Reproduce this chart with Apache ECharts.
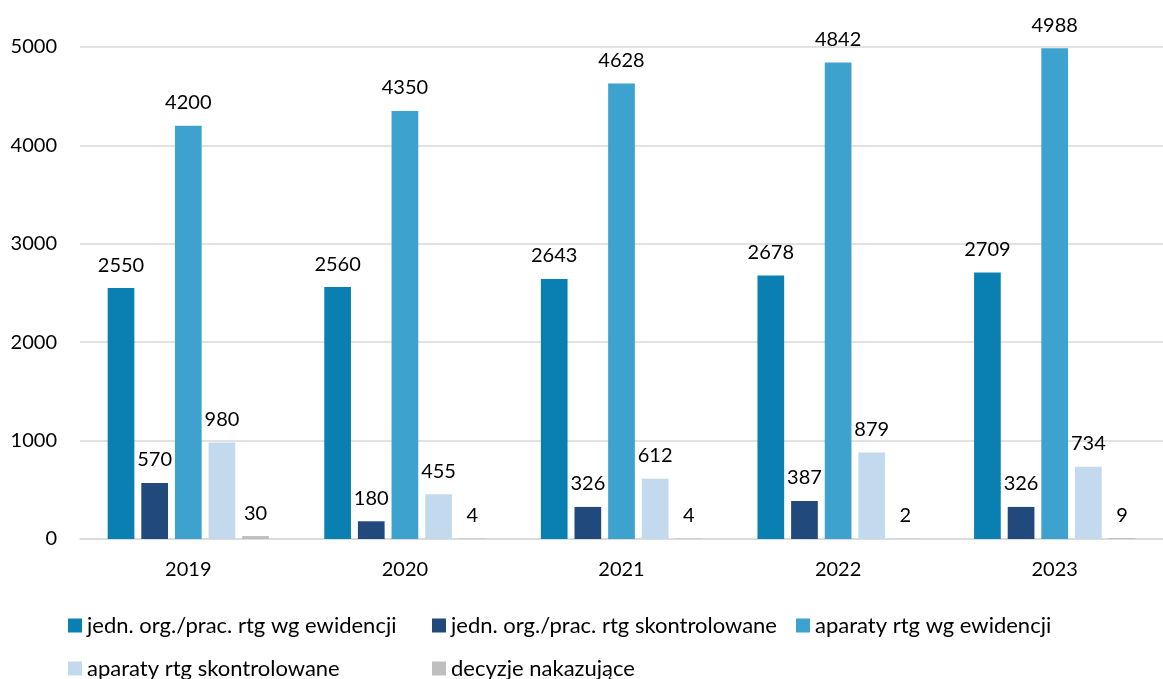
<!DOCTYPE html>
<html>
<head>
<meta charset="utf-8">
<script src="https://cdn.jsdelivr.net/npm/echarts@6/dist/echarts.min.js"></script>
<style>
html,body{margin:0;padding:0;background:#fff;}
#chart{width:1163px;height:679px;}
</style>
</head>
<body>
<div id="chart"></div>
<script>
const categories = ['2019', '2020', '2021', '2022', '2023'];
const seriesNames = [
  'jedn. org./prac. rtg wg ewidencji',
  'jedn. org./prac. rtg skontrolowane',
  'aparaty rtg wg ewidencji',
  'aparaty rtg skontrolowane',
  'decyzje nakazujące'
];
const jednEwidencja = [2550, 2560, 2643, 2678, 2709];
const jednSkontrolowane = [570, 180, 326, 387, 326];
const aparatyEwidencja = [4200, 4350, 4628, 4842, 4988];
const aparatySkontrolowane = [980, 455, 612, 879, 734];
const decyzje = [30, 4, 4, 2, 9];
const colors = ['#0A7FB2', '#22497B', '#3DA2CD', '#C3D9EE', '#BFBFBF'];

const allData = [jednEwidencja, jednSkontrolowane, aparatyEwidencja, aparatySkontrolowane, decyzje];
const FONT = 'Lato';

const chart = echarts.init(document.getElementById('chart'));
chart.setOption({
  animation: false,
  color: colors,
  textStyle: { fontFamily: FONT },
  grid: { left: 80, width: 1097.5, top: 47, bottom: 140, containLabel: false },
  legend: {
    left: 63,
    top: 604,
    width: 1100,
    itemWidth: 14,
    itemHeight: 14,
    itemGap: 10,
    icon: 'rect',
    textStyle: { fontFamily: FONT, fontSize: 22, color: '#000', width: 335, lineHeight: 33 },
    data: seriesNames
  },
  xAxis: {
    type: 'category',
    data: categories,
    axisLine: { show: true, lineStyle: { color: '#D9D9D9', width: 1.5 } },
    axisTick: { show: false },
    axisLabel: { fontFamily: FONT, fontSize: 20, color: '#000', margin: 21 }
  },
  yAxis: {
    type: 'value',
    min: 0,
    max: 5000,
    interval: 1000,
    axisLine: { show: false },
    axisTick: { show: false },
    splitLine: { lineStyle: { color: '#D9D9D9', width: 1.5 } },
    axisLabel: { fontFamily: FONT, fontSize: 20, color: '#000', margin: 23, formatter: v => String(v) }
  },
  series: seriesNames.map((name, i) => ({
    name: name,
    type: 'bar',
    data: allData[i],
    barWidth: 26.7,
    barGap: '26%',
    itemStyle: { color: colors[i] },
    label: {
      show: true,
      position: 'top',
      distance: 13,
      fontFamily: FONT,
      fontSize: 20,
      color: '#000'
    }
  }))
});
</script>
</body>
</html>
